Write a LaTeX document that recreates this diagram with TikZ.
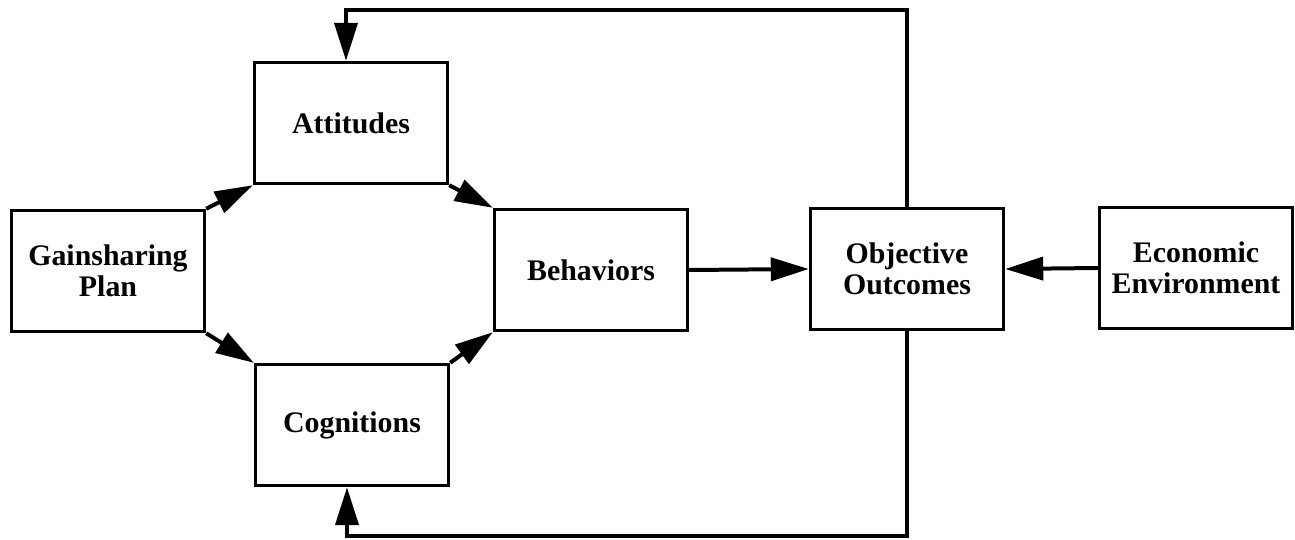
\documentclass[tikz,border=0pt]{standalone}
\usepackage{fontspec}
\setmainfont{Liberation Serif}
\usetikzlibrary{arrows.meta}

\begin{document}
\begin{tikzpicture}[x=0.02cm, y=-0.02cm,
		block/.style={draw, line width=0.07cm, minimum width=3.86cm, minimum height=2.42cm,
			align=center, font=\fontsize{17}{17.5}\selectfont\bfseries},
		link/.style={line width=0.08cm, -{Triangle[length=0.76cm, width=0.46cm]}}]
	\useasboundingbox (0,0) rectangle (1295,540);

	\node[block] (gain) at (108,271) {Gainsharing\\Plan};
	\node[block] (att)  at (351,123) {Attitudes};
	\node[block] (cog)  at (352,425) {Cognitions};
	\node[block] (beh)  at (591,270) {Behaviors};
	\node[block] (obj)  at (907,269) {Objective\\Outcomes};
	\node[block] (econ) at (1196,268) {Economic\\Environment};

	\coordinate (fbtop) at (907,10);
	\coordinate (fbbot) at (907,536);

	\draw[link] (gain.north east) -- (att.south west);
	\draw[link] (gain.south east) -- (cog.north west);
	\draw[link] (att.south east) -- (beh.north west);
	\draw[link] (cog.north east) -- (beh.south west);
	\draw[link] (beh.east) -- (obj.west);
	\draw[link] (econ.west) -- (obj.east);

	% feedback loops
	\draw[link] (obj.north) -- (fbtop) -| ([xshift=-0.1cm]att.north);
	\draw[link] (obj.south) -- (fbbot) -| ([xshift=-0.1cm]cog.south);
\end{tikzpicture}
\end{document}
